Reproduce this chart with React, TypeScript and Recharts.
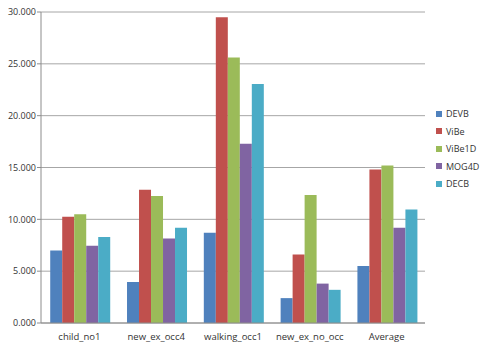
import React from "react";
import { BarChart, Bar, XAxis, YAxis, CartesianGrid } from "recharts";

const categories = ["child_no1", "new_ex_occ4", "walking_occ1", "new_ex_no_occ", "Average"];
const seriesNames = ["DEVB", "ViBe", "ViBe1D", "MOG4D", "DECB"];
const colors = ["#4F81BD", "#C0504D", "#9BBB59", "#8064A2", "#4BACC6"];

const devb = [7.0, 3.95, 8.7, 2.4, 5.5];
const vibe = [10.25, 12.85, 29.5, 6.6, 14.8];
const vibe1d = [10.5, 12.25, 25.6, 12.35, 15.2];
const mog4d = [7.45, 8.15, 17.3, 3.8, 9.2];
const decb = [8.3, 9.2, 23.05, 3.2, 10.95];

const yTicks = [0, 5, 10, 15, 20, 25, 30];

const seriesValues = [devb, vibe, vibe1d, mog4d, decb];
const data = categories.map((c, i) => {
  const row: any = { name: c };
  seriesNames.forEach((s, k) => {
    row[s] = seriesValues[k][i];
  });
  return row;
});

const font = "'Open Sans', sans-serif";

export default function App() {
  return (
    <div style={{ position: "absolute", left: 0, top: 0, width: 481, height: 344, background: "#fff", fontFamily: font }}>
      <BarChart
        width={481}
        height={344}
        data={data}
        margin={{ top: 12, right: 56, left: 0, bottom: 0 }}
        barCategoryGap="12%"
        barGap={0}
      >
        <CartesianGrid vertical={false} stroke="#a6a6a6" strokeWidth={1} />
        <XAxis
          dataKey="name"
          height={21}
          tickLine={false}
          axisLine={{ stroke: "#8c8c8c" }}
          tick={{ fill: "#333", fontSize: 9.5, fontFamily: font }}
          tickMargin={4}
          interval={0}
        />
        <YAxis
          width={41}
          domain={[0, 30]}
          ticks={yTicks}
          tickFormatter={(v) => v.toFixed(3)}
          axisLine={{ stroke: "#8c8c8c" }}
          tickLine={{ stroke: "#8c8c8c" }}
          tickSize={4}
          tickMargin={1}
          tick={{ fill: "#333", fontSize: 9, fontFamily: font }}
          interval={0}
        />
        {seriesNames.map((s, k) => (
          <Bar key={s} dataKey={s} fill={colors[k]} isAnimationActive={false} />
        ))}
      </BarChart>
      <div style={{ position: "absolute", left: 436, top: 105 }}>
        {seriesNames.map((s, k) => (
          <div key={s} style={{ display: "flex", alignItems: "center", height: 17.5, fontSize: 9, color: "#333", whiteSpace: "nowrap" }}>
            <span style={{ width: 6, height: 6, background: colors[k], marginRight: 4, display: "inline-block" }} />
            {s}
          </div>
        ))}
      </div>
    </div>
  );
}
